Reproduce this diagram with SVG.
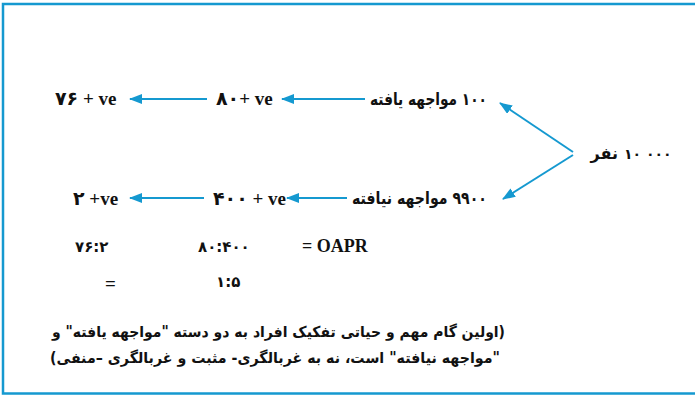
<svg xmlns="http://www.w3.org/2000/svg" width="695" height="395" viewBox="0 0 695 395">
  <style>
    .lat { font-family: "Liberation Serif", "DejaVu Sans", serif; font-weight: bold; font-size: 19px; fill: #111; }
    .num { font-family: "DejaVu Sans", sans-serif; font-weight: bold; font-size: 15px; fill: #111; }
    .fa { font-family: "DejaVu Sans", "Noto Sans", sans-serif; font-weight: bold; font-size: 17px; fill: #111; }
    .note { font-family: "DejaVu Sans", "Noto Sans", sans-serif; font-weight: bold; font-size: 15px; fill: #111; }
    .edge { stroke: #1599d0; stroke-width: 2; fill: none; }
  </style>
  <defs>
    <marker id="head" viewBox="0 0 13 10" refX="12" refY="5" markerWidth="13" markerHeight="10" markerUnits="userSpaceOnUse" orient="auto">
      <path d="M0,0 L13,5 L0,10 Z" fill="#1599d0"/>
    </marker>
  </defs>

  <!-- outer frame -->
  <rect x="3" y="4" width="710" height="389.5" fill="#fff" stroke="#1599d0" stroke-width="2.5"/>

  <!-- connectors -->
  <g id="connectors">
    <line class="edge" x1="573" y1="152" x2="500" y2="103" marker-end="url(#head)"/>
    <line class="edge" x1="573" y1="155" x2="503" y2="199" marker-end="url(#head)"/>
    <line class="edge" x1="365" y1="99" x2="282" y2="99" marker-end="url(#head)"/>
    <line class="edge" x1="207" y1="99" x2="130" y2="99" marker-end="url(#head)"/>
    <line class="edge" x1="347" y1="198" x2="287" y2="198" marker-end="url(#head)"/>
    <line class="edge" x1="204" y1="198" x2="130" y2="198" marker-end="url(#head)"/>
  </g>

  <!-- population -->
  <g id="total">
    <text class="fa" x="618" y="159" style="font-size:16px" text-anchor="end">نفر</text>
    <text class="num" x="624" y="159" style="font-size:14px">۱۰ ۰۰۰</text>
  </g>

  <!-- exposed branch -->
  <g id="exposed">
    <text class="fa" x="487" y="105" direction="rtl" text-anchor="start" textLength="117" lengthAdjust="spacingAndGlyphs">۱۰۰ مواجهه یافته</text>
  </g>
  <g id="exposed-pos">
    <text class="lat" x="216" y="105">۸۰+ ve</text>
  </g>
  <g id="exposed-pos-2">
    <text class="lat" x="55" y="105">۷۶ + ve</text>
  </g>

  <!-- unexposed branch -->
  <g id="unexposed">
    <text class="fa" x="487" y="204" direction="rtl" text-anchor="start" textLength="135" lengthAdjust="spacingAndGlyphs">۹۹۰۰ مواجهه نیافته</text>
  </g>
  <g id="unexposed-pos">
    <text class="lat" x="213" y="205">۴۰۰ + ve</text>
  </g>
  <g id="unexposed-pos-2">
    <text class="lat" x="73" y="205">۲ +ve</text>
  </g>

  <!-- odds ratio -->
  <g id="oapr">
    <text class="lat" x="302" y="252" style="font-size:18px">= OAPR</text>
    <text class="num" x="198" y="252">۸۰:۴۰۰</text>
    <text class="num" x="75" y="252">۷۶:۲</text>
    <text class="num" x="216" y="287">۱:۵</text>
    <text class="lat" x="105" y="290">=</text>
  </g>

  <!-- caption -->
  <g id="caption">
    <text class="note" x="505" y="337" direction="rtl" text-anchor="start" textLength="453" lengthAdjust="spacingAndGlyphs">(اولین گام مهم و حیاتی تفکیک افراد به دو  دسته "مواجهه یافته" و</text>
    <text class="note" x="500" y="363" direction="rtl" text-anchor="start" textLength="450" lengthAdjust="spacingAndGlyphs">"مواجهه نیافته" است، نه به غربالگری- مثبت و غربالگری –منفی)</text>
  </g>
</svg>
